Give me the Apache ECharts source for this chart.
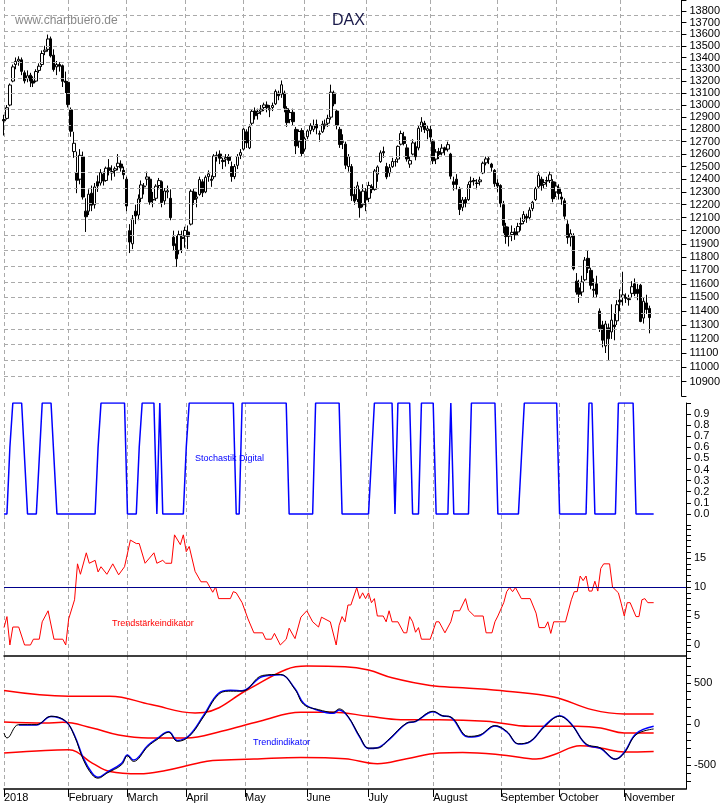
<!DOCTYPE html>
<html><head><meta charset="utf-8">
<script src="https://cdn.jsdelivr.net/npm/echarts@6/dist/echarts.min.js"></script>
<style>html,body{margin:0;padding:0;background:#fff}#c{width:723px;height:803px}</style>
</head><body><div id="c"></div>
<script>
// ---- DATA ----
const monthStarts = [0,22,42,62,82,103,124,146,169,189,211];
const monthNames = ['2018','February','March','April','May','June','July','August','September','October','November'];
const priceTicks = [10900,11000,11100,11200,11300,11400,11500,11600,11700,11800,11900,12000,12100,12200,12300,12400,12500,12600,12700,12800,12900,13000,13100,13200,13300,13400,13500,13600,13700,13800];
// [open, close, low, high]
const ohlc = [
[12880,12870,12750,12920],[12890,12978,12880,13000],[13000,13167,12990,13180],[13200,13320,13190,13340],[13340,13367,13300,13400],[13370,13385,13330,13410],[13380,13282,13250,13400],[13270,13202,13180,13290],[13220,13245,13190,13290],[13250,13200,13150,13270],[13200,13183,13150,13240],[13200,13281,13190,13300],[13290,13326,13270,13350],[13340,13434,13320,13460],[13450,13463,13420,13500],[13470,13559,13450,13597],[13560,13414,13400,13580],[13420,13298,13280,13470],[13320,13340,13250,13370],[13340,13325,13280,13360],[13330,13198,13150,13340],[13200,13189,13100,13280],
[13190,13004,12980,13200],[12960,12785,12740,12980],[12620,12687,12570,12780],[12450,12392,12290,12620],[12400,12590,12360,12640],[12580,12260,12240,12620],[12150,12107,11990,12250],[12150,12282,12120,12320],[12290,12196,12150,12350],[12200,12339,12170,12370],[12380,12346,12300,12430],[12370,12452,12350,12480],[12440,12385,12350,12460],[12390,12487,12380,12500],[12490,12470,12430,12560],[12450,12461,12390,12510],[12470,12483,12420,12500],[12500,12527,12470,12600],[12520,12490,12460,12550],[12470,12435,12400,12500],
[12400,12190,12150,12420],[12000,11913,11830,12050],[11900,12090,11860,12120],[12150,12113,12050,12200],[12120,12245,12080,12280],[12250,12355,12220,12390],[12340,12346,12280,12370],[12400,12418,12350,12460],[12400,12221,12200,12420],[12240,12237,12180,12300],[12250,12345,12230,12360],[12350,12389,12320,12410],[12380,12217,12180,12390],[12230,12307,12200,12330],[12300,12309,12250,12350],[12250,12100,12080,12320],[11950,11886,11850,12000],[11900,11787,11726,11960],[11850,11970,11820,12000],[11950,11940,11830,12000],
[11960,12002,11870,12030],[11990,11957,11860,12040],[12050,12305,12040,12320],[12300,12241,12200,12330],[12250,12261,12180,12300],[12280,12397,12270,12420],[12380,12293,12260,12400],[12300,12415,12290,12430],[12420,12442,12380,12470],[12400,12391,12340,12430],[12420,12585,12400,12600],[12580,12590,12540,12620],[12600,12567,12520,12630],[12550,12540,12480,12570],[12560,12572,12500,12600],[12580,12550,12520,12600],[12500,12422,12380,12540],[12420,12500,12400,12520],[12510,12580,12480,12600],[12590,12612,12560,12640],
[12640,12802,12630,12810],[12780,12690,12650,12800],[12650,12820,12640,12840],[12850,12948,12830,12960],[12950,12912,12880,12980],[12930,12943,12880,12970],[12950,12966,12920,13000],[12980,13001,12950,13020],[13000,12978,12940,13030],[12960,12970,12900,13000],[12980,12996,12950,13020],[13010,13114,13000,13130],[13100,13077,13040,13120],[13090,13169,13060,13205],[13100,12976,12940,13120],[12970,12855,12820,12990],[12880,12938,12850,12960],[12940,12863,12830,12970],[12800,12666,12600,12820],[12700,12783,12650,12800],[12790,12605,12580,12810],
[12640,12724,12620,12740],[12740,12787,12720,12800],[12790,12830,12760,12850],[12800,12830,12780,12880],[12840,12811,12760,12880],[12760,12766,12700,12790],[12780,12842,12770,12870],[12830,12842,12800,12880],[12850,12890,12820,12920],[12900,13107,12880,13170],[13100,13011,12990,13120],[12950,12835,12800,12960],[12800,12677,12650,12820],[12700,12695,12640,12760],[12680,12511,12480,12700],[12500,12580,12460,12600],[12500,12270,12230,12520],[12280,12228,12200,12340],[12240,12348,12220,12380],[12300,12177,12100,12320],[12200,12306,12180,12360],
[12300,12238,12150,12330],[12250,12350,12220,12380],[12340,12318,12290,12360],[12320,12465,12310,12480],[12440,12497,12380,12510],[12540,12610,12530,12630],[12620,12610,12570,12660],[12500,12418,12400,12530],[12450,12492,12420,12520],[12500,12541,12490,12570],[12540,12539,12500,12560],[12560,12662,12530,12670],[12680,12766,12670,12790],[12740,12686,12670,12780],[12650,12561,12540,12680],[12520,12548,12490,12580],[12600,12690,12590,12720],[12660,12579,12550,12700],[12650,12809,12630,12830],[12820,12860,12780,12900],[12850,12798,12770,12870],[12790,12805,12720,12830],
[12800,12737,12700,12830],[12700,12546,12520,12720],[12560,12616,12520,12640],[12620,12598,12560,12650],[12610,12648,12590,12680],[12650,12633,12590,12660],[12640,12676,12620,12700],[12600,12424,12400,12610],[12380,12358,12310,12420],[12400,12358,12320,12440],[12320,12163,12120,12340],[12180,12237,12150,12260],[12240,12210,12180,12260],[12240,12358,12230,12380],[12380,12384,12330,12420],[12390,12385,12350,12410],[12370,12366,12320,12400],[12380,12394,12350,12420],[12450,12527,12440,12540],[12530,12561,12510,12580],[12560,12562,12520,12580],[12520,12494,12460,12530],[12470,12364,12340,12480],
[12370,12346,12300,12400],[12350,12210,12180,12360],[12200,12040,11980,12230],[12030,11955,11900,12060],[11960,11959,11880,12030],[11970,11987,11920,12040],[11990,11970,11930,12020],[11990,12032,11960,12060],[12050,12055,12000,12100],[12070,12124,12050,12150],[12110,12096,12060,12130],[12100,12158,12080,12180],[12170,12219,12150,12230],[12240,12326,12230,12340],[12340,12431,12330,12460],[12400,12350,12310,12420],[12360,12374,12330,12400],[12390,12385,12340,12420],[12390,12435,12370,12460],[12380,12247,12220,12400],
[12300,12346,12260,12380],[12330,12287,12240,12360],[12260,12244,12200,12300],[12230,12111,12080,12250],[12050,11947,11900,12080],[11950,11977,11880,12010],[11960,11712,11700,11980],[11620,11539,11520,11680],[11570,11524,11460,11630],[11540,11614,11510,11660],[11630,11777,11620,11800],[11790,11716,11680,11850],[11700,11589,11560,11720],[11560,11553,11500,11640],[11600,11524,11500,11660],[11400,11274,11250,11420],[11300,11191,11140,11330],[11150,11307,11100,11330],[11280,11201,11051,11310],[11250,11335,11200,11450],[11300,11287,11190,11380],[11330,11447,11300,11480],
[11480,11468,11400,11560],[11500,11519,11440,11690],[11500,11494,11460,11530],[11490,11484,11440,11520],[11530,11579,11500,11620],[11600,11527,11510,11640],[11560,11529,11480,11600],[11590,11325,11320,11600],[11350,11472,11310,11500],[11460,11412,11380,11520],[11420,11353,11240,11440]
];
// Stochastik digital as runs [value, days]
const stochRuns = [[0,2],[0.6,1],[1,4],[0.5,1],[0,4],[0.5,1],[1,4],[0.5,1],[0,14],[0.6,1],[1,9],[0,4],[0.6,1],[1,5],[0,1],[1,1],[0,8],[0.6,1],[1,16],[0,2],[1,16],[0,9],[1,9],[0,10],[0.5,1],[1,7],[0,1],[1,5],[0,3],[1,5],[0,5],[1,1],[0,6],[1,9],[0,8],[0.5,1],[1,12],[0,10],[1,2],[0,8],[1,6],[0,7]];
// Trendstaerke [dayIndex, value]
const tsi = [[0,3],[1,4.9],[2,0],[3,3.1],[5,3.1],[7,0],[9,0],[10,1],[12,1],[13,4],[15,5.9],[17,1],[20,1],[21,0],[22,4.5],[24,7.8],[25,14],[26,12.2],[28,15.9],[29,14.1],[31,14.6],[32,12.6],[33,13.5],[35,12.2],[37,14],[39,12.1],[41,13.5],[43,18.1],[45,17.5],[46,17.5],[48,14.1],[51,15.9],[52,14.1],[54,14.6],[55,14.1],[57,14.1],[58,19],[60,17.3],[61,19],[62,16.1],[63,17],[65,12.7],[67,10.9],[69,10.9],[71,9.1],[72,10],[73,8],[77,8],[78,9.2],[79,9],[81,7.3],[83,4.5],[85,2.1],[88,2.1],[89,1],[91,1],[92,2],[94,0],[96,1],[97,2.9],[99,1.1],[101,4.8],[103,5.9],[105,4],[107,3.1],[108,4.8],[111,4],[113,0],[114,3.4],[115,4.9],[116,4],[117,6.9],[118,6.9],[120,9.9],[121,8],[122,9],[123,8],[124,9],[125,7.3],[126,8],[127,5],[129,5],[130,4],[131,5.9],[132,4],[134,4],[136,2.1],[137,2.1],[138,4.9],[139,4],[140,2.2],[141,3],[142,1],[145,1],[147,4],[148,4],[150,2.1],[152,4],[153,5.9],[155,5.9],[157,8],[158,6],[160,5],[163,5],[164,2.1],[166,2.1],[167,4],[168,5],[170,7.3],[171,9.2],[172,9.9],[173,9.2],[174,9.9],[176,8],[179,8],[181,5.5],[182,3],[184,3],[185,4],[186,2],[187,4],[191,4],[193,7.8],[194,9.2],[195,9.2],[196,11.9],[197,11.1],[198,11.9],[199,9.3],[200,9.3],[201,11],[202,9.3],[203,13.2],[204,14],[206,14],[207,10],[209,9],[210,7.1],[211,5],[212,7.3],[213,7.3],[215,4.9],[216,4.9],[217,7.8],[218,8],[219,7.3],[221,7.3]];
// Trendindikator [dayIndex, value]
const trendBlack = [[0,-110],[1,-171],[5,-8],[11,-8],[16,94],[21,33],[24,-151],[27,-437],[30,-620],[32,-661],[35,-600],[40,-498],[42,-388],[44,-457],[49,-273],[52,-192],[56,-102],[59,-212],[63,-151],[68,94],[73,359],[77,400],[81,400],[88,592],[94,604],[99,420],[102,237],[107,175],[112,143],[114,184],[117,94],[121,-151],[124,-294],[127,-294],[131,-184],[137,12],[140,33],[146,155],[149,102],[152,86],[158,-151],[162,-131],[167,-20],[171,-90],[175,-241],[179,-212],[184,-29],[189,94],[193,-8],[198,-241],[203,-294],[208,-428],[211,-355],[215,-131],[221,-61]];
const trendBlue = [[5,-12],[11,-12],[16,90],[21,30],[24,-140],[27,-420],[30,-600],[32,-650],[35,-590],[40,-480],[42,-378],[44,-440],[49,-260],[52,-180],[56,-95],[59,-200],[63,-140],[68,110],[73,375],[77,410],[81,405],[88,580],[94,600],[99,430],[102,250],[107,165],[112,130],[114,170],[117,90],[121,-160],[124,-300],[127,-290],[131,-190],[137,8],[140,30],[146,150],[149,100],[152,80],[158,-160],[162,-140],[167,-25],[171,-95],[175,-245],[179,-215],[184,-20],[189,100],[193,0],[198,-250],[203,-300],[208,-430],[211,-345],[215,-120],[221,-29]];
const bandTop = [[0,408],[22,339],[36,339],[50,237],[65,135],[68,140],[83,420],[96,665],[103,706],[116,698],[124,657],[132,563],[145,469],[156,441],[171,400],[187,330],[200,175],[211,122],[221,122]];
const bandMid = [[0,24],[14,12],[20,20],[30,-49],[39,-135],[49,-171],[62,-171],[74,-90],[87,33],[101,143],[112,143],[124,94],[135,53],[148,53],[164,33],[179,-29],[195,-29],[203,-49],[211,-110],[221,-110]];
const bandLow = [[0,-355],[14,-322],[22,-314],[30,-477],[36,-580],[46,-608],[55,-567],[65,-486],[71,-445],[85,-428],[101,-408],[116,-424],[127,-486],[137,-424],[148,-355],[156,-347],[171,-384],[181,-428],[187,-375],[196,-265],[203,-294],[211,-343],[221,-335]];
const nCats = 233;

// ---- BUILD ----
const cats = Array.from({length:nCats},(_,i)=>String(i));
const L = Math.log;
const candles = ohlc.map(d=>d.map(L));
const stoch = [];
stochRuns.forEach(([v,n])=>{for(let k=0;k<n;k++) stoch.push(v);});
const lnTicks = priceTicks.map(L);
const tickAll = [10800].concat(priceTicks,[13900]).map(L);

const grids = [
  {left:4,right:37,top:0,height:396},
  {left:4,right:37,top:403,height:122},
  {left:4,right:37,top:525,height:131},
  {left:4,right:37,top:656,height:133}
];
const isMonth = i => monthStarts.indexOf(i) >= 0;
function xAx(gi, opts){
  return Object.assign({
    type:'category', gridIndex:gi, data:cats, boundaryGap:false,
    axisLine:{show:false}, axisTick:{show:false}, axisLabel:{show:false},
    splitLine:{show:true, interval:(i)=>isMonth(i), lineStyle:{color:'#aaa', type:[4,3], width:1}}
  }, opts||{});
}
const yBase = {position:'right', axisLine:{show:true,lineStyle:{color:'#000'}},
  axisTick:{show:true,length:5,lineStyle:{color:'#000'}}, splitLine:{show:false},
  axisLabel:{color:'#000', fontSize:11, fontFamily:'Liberation Sans, Arial', margin:8}};
function yAx(gi,min,max,labels,ticks,fmt){
  return Object.assign({}, yBase, {type:'value', gridIndex:gi, min, max,
    axisLabel:Object.assign({}, yBase.axisLabel, {customValues:labels, formatter:fmt}),
    axisTick:Object.assign({}, yBase.axisTick, {customValues:ticks})});
}
const stochTicks=[]; for(let k=-1;k<=10;k++) stochTicks.push(k/10);
const tsiTicks=[]; for(let k=-1;k<=20;k++) tsiTicks.push(k);
const trTicks=[]; for(let k=-7;k<=8;k++) trTicks.push(k*100);

const option = {
  animation:false, backgroundColor:'#fff',
  title:[
    {text:'www.chartbuero.de', left:10, top:10, textStyle:{color:'#888',fontSize:12,fontWeight:'normal',fontFamily:'Liberation Sans, Arial'}},
    {text:'DAX', left:327, top:8, textStyle:{color:'#1a1a4a',fontSize:16,fontWeight:'normal',fontFamily:'Liberation Sans, Arial'}},
    {text:'Stochastik Digital', left:190, top:449, textStyle:{color:'#0000ff',fontSize:9,fontWeight:'normal',fontFamily:'Liberation Sans, Arial'}},
    {text:'Trendstärkeindikator', left:107, top:614, textStyle:{color:'#ff0000',fontSize:9,fontWeight:'normal',fontFamily:'Liberation Sans, Arial'}},
    {text:'Trendindikator', left:248, top:733, textStyle:{color:'#0000ff',fontSize:9,fontWeight:'normal',fontFamily:'Liberation Sans, Arial'}}
  ],
  grid:grids,
  xAxis:[
    xAx(0), xAx(1),
    xAx(2,{axisLine:{show:true,onZero:false,lineStyle:{color:'#000',width:1.5}}}),
    xAx(3,{axisLine:{show:true,onZero:false,lineStyle:{color:'#000',width:1.5}},
      axisTick:{show:true, interval:(i)=>isMonth(i), length:8, lineStyle:{color:'#000'}},
      axisLabel:{show:true, interval:(i)=>isMonth(i), align:'left', margin:3, color:'#000', fontSize:11,
        fontFamily:'Liberation Sans, Arial', formatter:(v,i)=>{const k=monthStarts.indexOf(+v);return k>=0?monthNames[k]:'';}}})
  ],
  yAxis:[
    yAx(0,L(10800),L(13900),lnTicks,tickAll,v=>String(Math.round(Math.exp(v)/100)*100)),
    yAx(1,-0.1,1.0,[0,0.1,0.2,0.3,0.4,0.5,0.6,0.7,0.8,0.9],stochTicks,v=>v.toFixed(1)),
    yAx(2,-1.9,20.7,[0,5,10,15],tsiTicks,v=>String(v)),
    yAx(3,-793,829,[-500,0,500],trTicks,v=>String(v))
  ],
  series:[
    {type:'candlestick', xAxisIndex:0, yAxisIndex:0, data:candles, barWidth:3,
      itemStyle:{color:'#fff',color0:'#000',borderColor:'#000',borderColor0:'#000',borderWidth:1},
      markLine:{silent:true,symbol:'none',label:{show:false},
        lineStyle:{color:'#aaa',type:[4,3],width:1},
        data:lnTicks.map(v=>({yAxis:v}))}},
    {type:'line', xAxisIndex:1, yAxisIndex:1, data:stoch, showSymbol:false, lineStyle:{color:'#0000ff',width:1.5}},
    {type:'line', xAxisIndex:2, yAxisIndex:2, data:tsi, showSymbol:false, lineStyle:{color:'#ff0000',width:1},
      markLine:{silent:true,symbol:'none',label:{show:false},lineStyle:{color:'#00008b',type:'solid',width:1},data:[{yAxis:10}]}},
    {type:'line', xAxisIndex:3, yAxisIndex:3, data:bandTop, smooth:0.4, showSymbol:false, lineStyle:{color:'#ff0000',width:1.5}},
    {type:'line', xAxisIndex:3, yAxisIndex:3, data:bandMid, smooth:0.4, showSymbol:false, lineStyle:{color:'#ff0000',width:1.5}},
    {type:'line', xAxisIndex:3, yAxisIndex:3, data:bandLow, smooth:0.4, showSymbol:false, lineStyle:{color:'#ff0000',width:1.5}},
    {type:'line', xAxisIndex:3, yAxisIndex:3, data:trendBlue, smooth:0.4, showSymbol:false, lineStyle:{color:'#0000ff',width:1.5}},
    {type:'line', xAxisIndex:3, yAxisIndex:3, data:trendBlack, smooth:0.4, showSymbol:false, lineStyle:{color:'#000',width:1}}
  ]
};
echarts.init(document.getElementById('c')).setOption(option);
</script></body></html>
